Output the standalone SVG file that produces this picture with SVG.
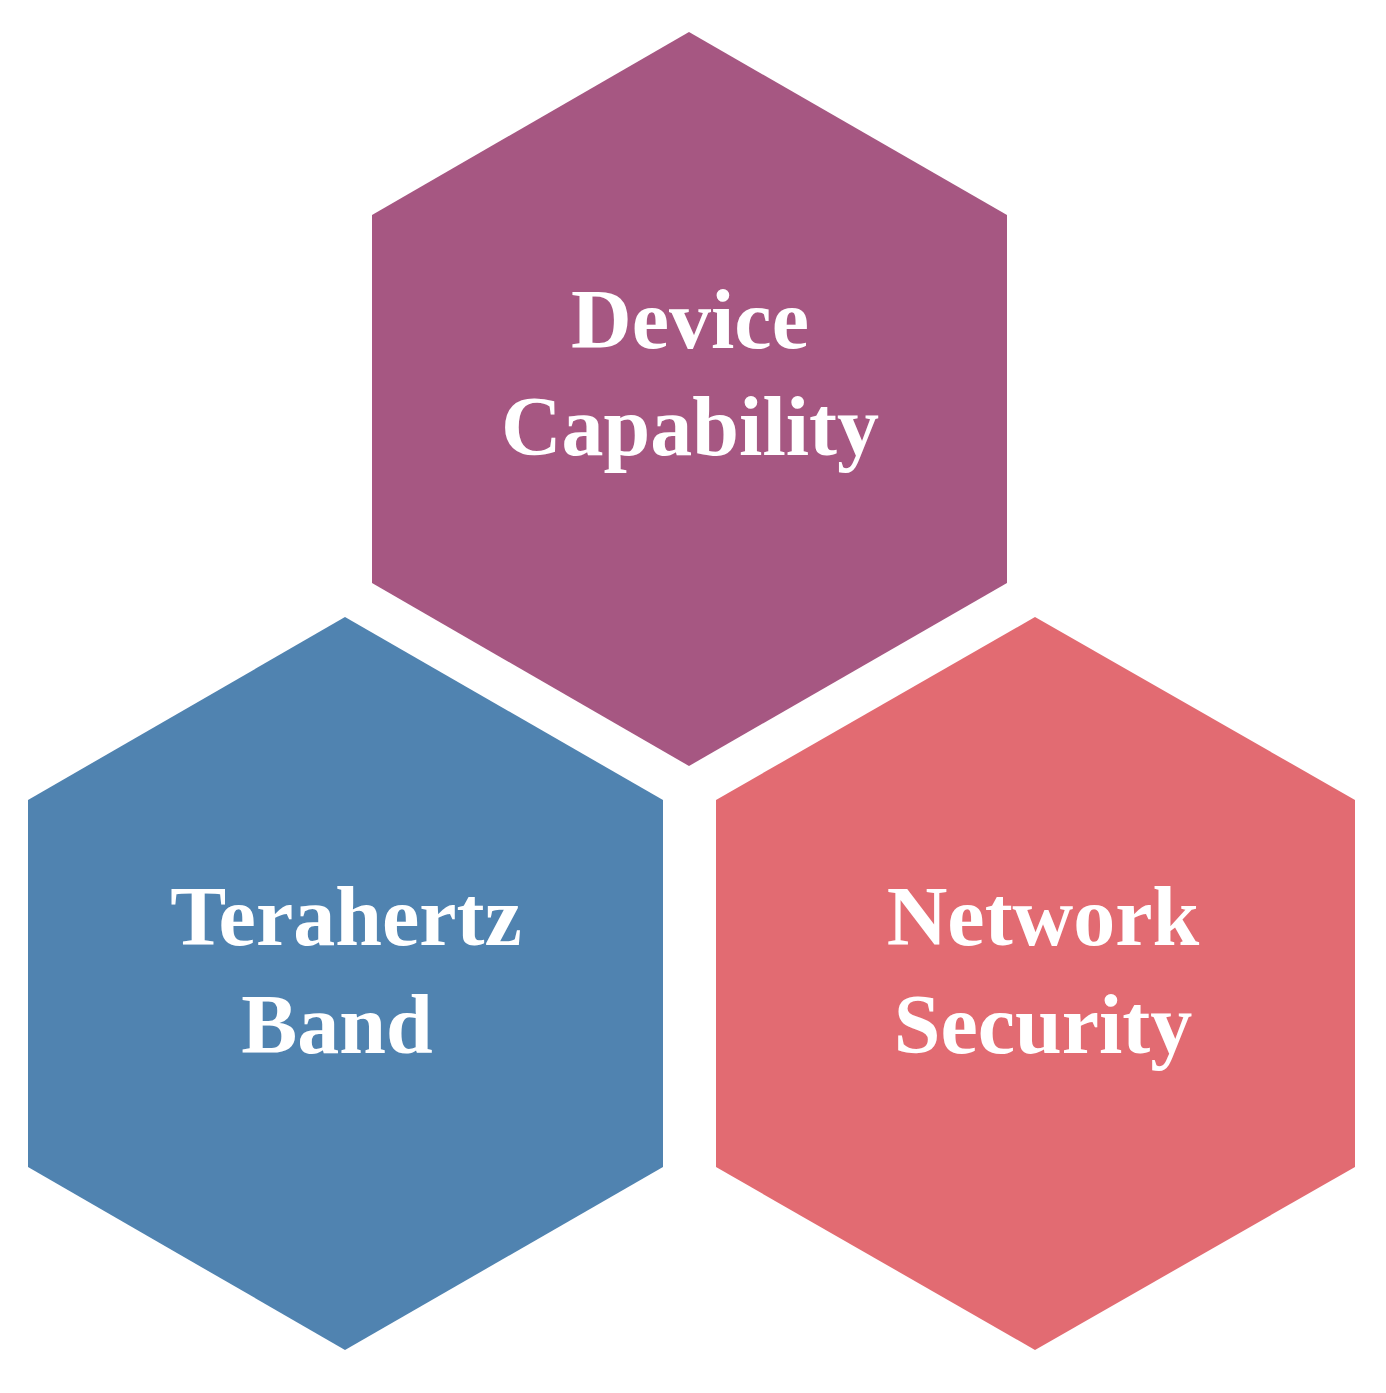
<svg xmlns="http://www.w3.org/2000/svg" width="1386" height="1393" viewBox="0 0 1386 1393">
<style>
text{font-family:"Liberation Serif","DejaVu Serif",serif;font-weight:bold;font-size:84px;fill:#fff;text-anchor:middle}
</style>
<rect width="1386" height="1393" fill="#fff"/>
<g id="device">
<polygon points="689,32 1007,215 1007,583 689,766 372,583 372,215" fill="#A65782"/>
<text x="690" y="348">Device</text>
<text x="690" y="455">Capability</text>
</g>
<g id="terahertz">
<polygon points="345,617 663,800 663,1167 345,1350 28,1167 28,800" fill="#5083B0"/>
<text x="346" y="945">Terahertz</text>
<text x="337" y="1053">Band</text>
</g>
<g id="network">
<polygon points="1035,617 1355,800 1355,1167 1035,1350 716,1167 716,800" fill="#E26B72"/>
<text x="1043" y="945">Network</text>
<text x="1043" y="1053">Security</text>
</g>
<g id="connectors"/>
</svg>
